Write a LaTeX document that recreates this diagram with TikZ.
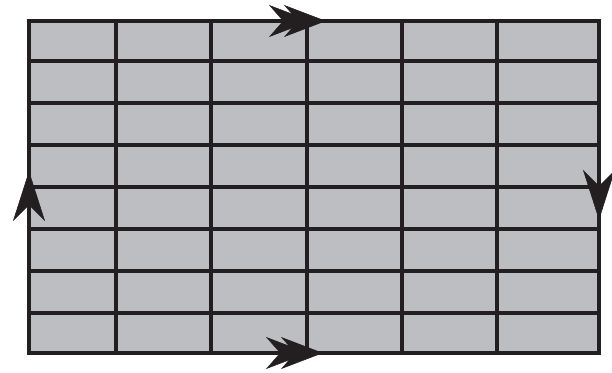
\documentclass[tikz,border=0pt]{standalone}
\usetikzlibrary{arrows.meta}
\definecolor{cellgray}{RGB}{189,190,194}
\definecolor{ink}{RGB}{35,31,32}
\begin{document}
\begin{tikzpicture}[x=1pt,y=-1pt,
  gridline/.style={draw=ink,line width=4pt},
  dbltip/.style={draw=ink,fill=ink,line width=0.5pt,-{Stealth[length=42pt,width=32pt,inset=14pt]}},
  sgltip/.style={draw=ink,fill=ink,line width=0.5pt,-{Stealth[length=50pt,width=32pt,inset=16pt]}}]
\useasboundingbox (0,0) rectangle (612,372);
\coordinate (tl) at (29,21);
\coordinate (br) at (599,353);
\fill[cellgray] (tl) rectangle (br);
\foreach \x in {116.3,211.3,306.7,402,497.3} \draw[gridline] (\x,21) -- (\x,353);
\foreach \y in {61,103,145,187,229,271,313} \draw[gridline] (29,\y) -- (599,\y);
\draw[gridline,line join=miter] (tl) rectangle (br);
% top double arrow
\coordinate (t0) at (250,21);
\coordinate (t1) at (311,21);
\coordinate (t2) at (326,21);
\draw[dbltip] (t0) -- (t1);
\draw[dbltip] (t0) -- (t2);
% bottom double arrow
\coordinate (b0) at (245,353);
\coordinate (b1) at (308,353);
\coordinate (b2) at (323,353);
\draw[dbltip] (b0) -- (b1);
\draw[dbltip] (b0) -- (b2);
% left arrow up
\coordinate (l0) at (29,240);
\coordinate (l1) at (29,171);
\draw[sgltip] (l0) -- (l1);
% right arrow down
\coordinate (r0) at (599,155);
\coordinate (r1) at (599,220);
\draw[sgltip] (r0) -- (r1);
\end{tikzpicture}
\end{document}
